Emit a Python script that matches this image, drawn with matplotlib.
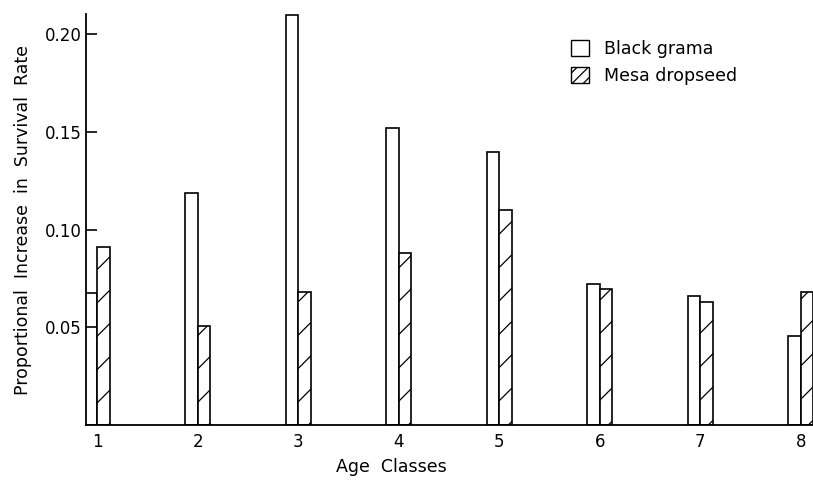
import numpy as np
import matplotlib
matplotlib.use("Agg")
import matplotlib.pyplot as plt
import matplotlib.patches as mpatches

age_classes = [1, 2, 3, 4, 5, 6, 7, 8]
black_grama = [0.0675, 0.1186, 0.210, 0.152, 0.1396, 0.072, 0.066, 0.0455]
mesa_dropseed = [0.091, 0.0506, 0.068, 0.088, 0.110, 0.0695, 0.063, 0.068]
y_ticks = [0.05, 0.10, 0.15, 0.20]
y_tick_labels = ["0.05", "0.10", "0.15", "0.20"]

plt.rcParams["hatch.linewidth"] = 0.9
plt.rcParams["font.family"] = "DejaVu Sans"

fig = plt.figure(figsize=(8.13, 4.8), dpi=100)
ax = fig.add_axes([0.1058, 0.1146, 0.894, 0.856])

x = np.array(age_classes, dtype=float)
w = 0.124
ax.bar(x, black_grama, width=-w, align="edge", facecolor="white",
       edgecolor="black", linewidth=1.2)
ax.bar(x, mesa_dropseed, width=w, align="edge", facecolor="white",
       edgecolor="black", linewidth=1.2, hatch="/")

ax.set_xlim(0.89, 8.12)
ax.set_ylim(0, 0.2102)

for side in ["top", "right"]:
    ax.spines[side].set_visible(False)
ax.spines["left"].set_linewidth(1.3)
ax.spines["bottom"].set_linewidth(1.3)

ax.set_yticks(y_ticks)
ax.set_yticklabels(y_tick_labels, fontsize=12)
ax.tick_params(axis="y", direction="in", length=8, width=1.2, pad=3)
ax.set_xticks(age_classes)
ax.set_xticklabels([str(a) for a in age_classes], fontsize=12)
ax.tick_params(axis="x", length=0, pad=6)

ax.set_xlabel("Age  Classes", fontsize=12.5, labelpad=5)
ax.xaxis.label.set_x(0.42)
ax.set_ylabel("Proportional  Increase  in  Survival  Rate", fontsize=12.5, labelpad=9)

# legend squares drawn with a denser hatch so the lines show in the small box
handles = [
    mpatches.Patch(facecolor="white", edgecolor="black", linewidth=1.0, label="Black grama"),
    mpatches.Patch(facecolor="white", edgecolor="black", linewidth=1.0, hatch="///", label="Mesa dropseed"),
]
ax.legend(handles=handles, loc="upper left", bbox_to_anchor=(0.646, 0.975), frameon=False,
          fontsize=12.5, handlelength=1.0, handleheight=1.0, handletextpad=0.9,
          labelspacing=0.5)

fig.savefig("out.png", dpi=100)
